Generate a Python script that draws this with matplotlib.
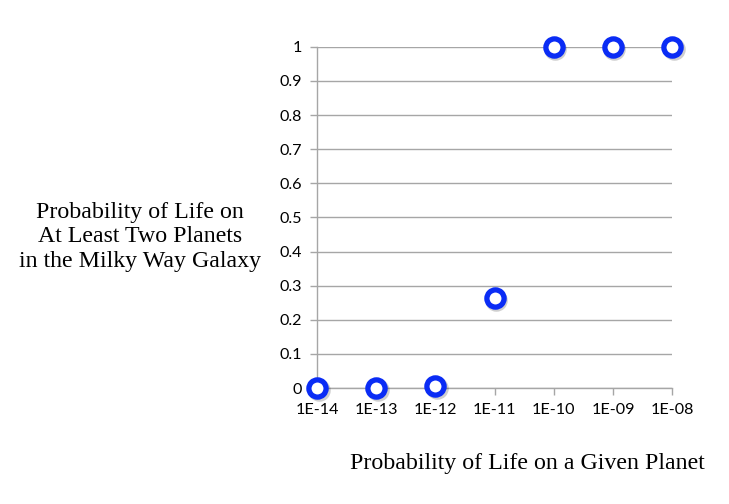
import matplotlib.pyplot as plt
import matplotlib.transforms as mtransforms

# data
planet_prob = [1e-14, 1e-13, 1e-12, 1e-11, 1e-10, 1e-09, 1e-08]
tick_labels = ["1E-14", "1E-13", "1E-12", "1E-11", "1E-10", "1E-09", "1E-08"]
galaxy_prob = [0.0, 0.0005, 0.005, 0.263, 1.0, 1.0, 1.0]
y_ticks = [0, 0.1, 0.2, 0.3, 0.4, 0.5, 0.6, 0.7, 0.8, 0.9, 1]
y_labels = ["0", "0.1", "0.2", "0.3", "0.4", "0.5", "0.6", "0.7", "0.8", "0.9", "1"]

fig = plt.figure(figsize=(7.29, 5.04), dpi=100)
ax = fig.add_axes([0.435, 0.230, 0.487, 0.677])

grid_col = "#a6a6a6"
ax.set_xscale("log")
ax.set_xlim(1e-14, 1e-08)
ax.set_ylim(0, 1)
ax.set_yticks(y_ticks)
ax.set_yticklabels(y_labels)
ax.set_xticks(planet_prob)
ax.set_xticklabels(tick_labels)
ax.minorticks_off()
ax.grid(axis="y", color=grid_col, linewidth=1)
ax.set_axisbelow(True)
for s in ["top", "right"]:
    ax.spines[s].set_visible(False)
for s in ["left", "bottom"]:
    ax.spines[s].set_color(grid_col)
    ax.spines[s].set_linewidth(1)
ax.tick_params(axis="both", colors=grid_col, length=5, width=1, labelcolor="black",
               labelsize=11.6)
ax.tick_params(axis="x", direction="out", pad=6)
ax.tick_params(axis="y", direction="out", pad=6)
for lab in ax.get_xticklabels() + ax.get_yticklabels():
    lab.set_fontfamily("Lato")

# soft shadow behind the markers
shadow = mtransforms.offset_copy(ax.transData, fig=fig, x=1.0, y=-1.5, units="points")
ax.plot(planet_prob, galaxy_prob, linestyle="none", marker="o", markersize=12.4,
        markerfacecolor="none", markeredgecolor="#00000030", markeredgewidth=3.8,
        transform=shadow, clip_on=False, zorder=3)
ax.plot(planet_prob, galaxy_prob, linestyle="none", marker="o", markersize=12.4,
        markerfacecolor="white", markeredgecolor="#0a2cf5", markeredgewidth=3.8,
        clip_on=False, zorder=4)

fig.text(0.192, 0.53, "Probability of Life on\nAt Least Two Planets\nin the Milky Way Galaxy",
         ha="center", va="center", fontfamily="Liberation Serif", fontsize=17.2,
         linespacing=1.2)
fig.text(0.723, 0.081, "Probability of Life on a Given Planet", ha="center", va="center",
         fontfamily="Liberation Serif", fontsize=17.2)

fig.savefig("out.png", dpi=100)
